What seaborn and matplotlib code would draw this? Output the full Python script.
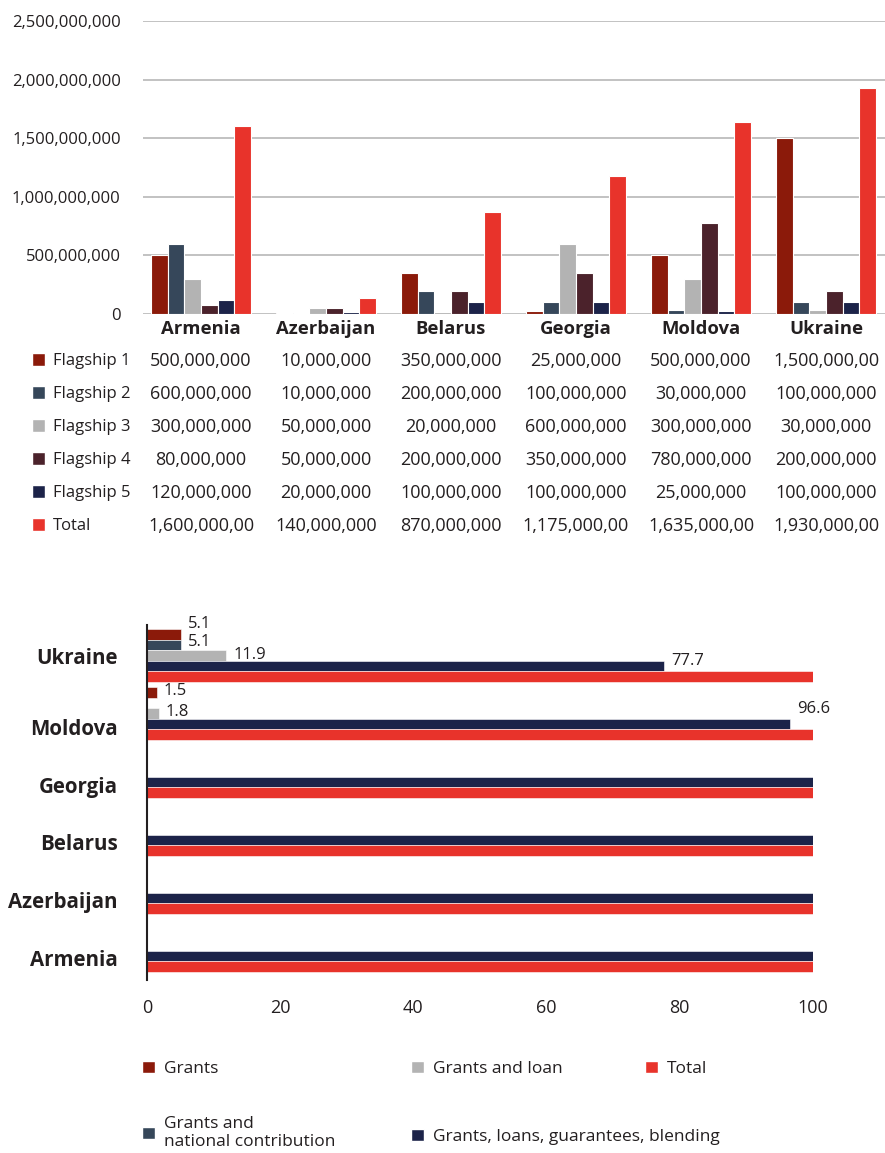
import numpy as np
import pandas as pd
import matplotlib
matplotlib.use("Agg")
import matplotlib.pyplot as plt
import seaborn as sns
from matplotlib.patches import Patch
from matplotlib.ticker import FuncFormatter
from matplotlib.transforms import blended_transform_factory, ScaledTranslation

# ---------------- data: top chart ----------------
countries = ["Armenia", "Azerbaijan", "Belarus", "Georgia", "Moldova", "Ukraine"]
series = ["Flagship 1", "Flagship 2", "Flagship 3", "Flagship 4", "Flagship 5", "Total"]
flagship_1 = [500000000, 10000000, 350000000, 25000000, 500000000, 1500000000]
flagship_2 = [600000000, 10000000, 200000000, 100000000, 30000000, 100000000]
flagship_3 = [300000000, 50000000, 20000000, 600000000, 300000000, 30000000]
flagship_4 = [80000000, 50000000, 200000000, 350000000, 780000000, 200000000]
flagship_5 = [120000000, 20000000, 100000000, 100000000, 25000000, 100000000]
total = [1600000000, 140000000, 870000000, 1175000000, 1635000000, 1930000000]
y_ticks_top = [0, 500000000, 1000000000, 1500000000, 2000000000, 2500000000]

# ---------------- data: bottom chart ----------------
countries_h = ["Ukraine", "Moldova", "Georgia", "Belarus", "Azerbaijan", "Armenia"]
fund_types = ["Grants", "Grants and national contribution", "Grants and loan",
              "Grants, loans, guarantees, blending", "Total"]
grants = [5.1, 1.5, 0, 0, 0, 0]
grants_national = [5.1, 0, 0, 0, 0, 0]
grants_loan = [11.9, 1.8, 0, 0, 0, 0]
grants_loans_guar = [77.7, 96.6, 100, 100, 100, 100]
total_pct = [100, 100, 100, 100, 100, 100]
x_ticks_bottom = [0, 20, 40, 60, 80, 100]

# ---------------- styles ----------------
c_f1 = "#8B1A0A"
c_f2 = "#36475A"
c_f3 = "#B3B3B3"
c_f4 = "#4B222B"
c_f5 = "#1C2349"
c_tot = "#E8332B"
top_colors = [c_f1, c_f2, c_f3, c_f4, c_f5, c_tot]
bot_colors = [c_f1, c_f2, c_f3, c_f5, c_tot]
txt = "#231F20"

# vertical lift (px) of individual value labels in the bottom chart
label_lift = {(0, 0): 10, (1, 0): 3, (2, 0): 1, (3, 0): 5,
              (0, 1): 1, (2, 1): 2, (3, 1): 15}

sns.set_style("white")
plt.rcParams["font.family"] = ["Open Sans", "DejaVu Sans"]
plt.rcParams["text.color"] = txt

W, H = 885, 1153
fig = plt.figure(figsize=(W / 100, H / 100), dpi=100)

# ================= top chart =================
vals = [flagship_1, flagship_2, flagship_3, flagship_4, flagship_5, total]
df1 = pd.DataFrame([(c, s, v[i]) for s, v in zip(series, vals) for i, c in enumerate(countries)],
                   columns=["country", "series", "value"])

ax1 = fig.add_axes([143 / W, 1 - 314 / H, 742 / W, 293 / H])
sns.barplot(data=df1, x="country", y="value", hue="series", order=countries,
            hue_order=series, palette=top_colors, width=0.8, edgecolor="white",
            linewidth=0.8, legend=False, errorbar=None, ax=ax1, saturation=1)
ax1.set_xlim(-0.464, 5.472)
ax1.set_ylim(0, 2500000000)
ax1.set_yticks(y_ticks_top)
ax1.yaxis.set_major_formatter(FuncFormatter(lambda v, p: f"{int(v):,}"))
ax1.yaxis.grid(True, color="#BDBDBD", lw=1.3)
ax1.set_axisbelow(True)
for s in ax1.spines.values():
    s.set_visible(False)
ax1.set_xlabel("")
ax1.set_ylabel("")
ax1.tick_params(axis="y", length=0, pad=16, labelsize=12, labelcolor=txt)
ax1.tick_params(axis="x", length=0, pad=4, labelsize=13.3, labelcolor=txt)
for lbl in ax1.get_xticklabels():
    lbl.set_fontweight("bold")

# data table under the top chart
trans = blended_transform_factory(ax1.transData, fig.transFigure)
for r, (name, v, col) in enumerate(zip(series, vals, top_colors)):
    ypx = 361 + 33 * r
    yf = 1 - ypx / H
    for i, val in enumerate(v):
        ax1.text(i, yf, f"{val:,}"[:12], transform=trans, ha="center", va="center",
                 fontsize=13, color=txt, clip_on=False)
    fig.legend(handles=[Patch(facecolor=col)], labels=[name], loc="center left",
               bbox_to_anchor=(32 / W, yf), frameon=False, fontsize=12,
               handlelength=0.8, handleheight=0.8, handletextpad=0.45,
               borderpad=0, borderaxespad=0)

# ================= bottom chart =================
vals2 = [grants, grants_national, grants_loan, grants_loans_guar, total_pct]
df2 = pd.DataFrame([(c, t, v[i]) for t, v in zip(fund_types, vals2) for i, c in enumerate(countries_h)],
                   columns=["country", "type", "value"])

ax2 = fig.add_axes([147 / W, 1 - 980 / H, 666 / W, 355 / H])
sns.barplot(data=df2, x="value", y="country", hue="type", order=countries_h,
            hue_order=fund_types, palette=bot_colors, width=0.914, orient="h",
            edgecolor="white", linewidth=0.4, legend=False, errorbar=None, ax=ax2,
            saturation=1)
ax2.set_xlim(0, 100)
ax2.set_ylim(5.595, -0.526)
ax2.set_xticks(x_ticks_bottom)
ax2.set_xlabel("")
ax2.set_ylabel("")
for k, s in ax2.spines.items():
    s.set_visible(k == "left")
ax2.spines["left"].set_color(txt)
ax2.spines["left"].set_linewidth(1.5)
ax2.tick_params(axis="x", length=0, pad=14, labelsize=13, labelcolor=txt)
ax2.tick_params(axis="y", length=0, pad=21, labelsize=14.8, labelcolor=txt)
for j, lbl in enumerate(ax2.get_yticklabels()):
    lbl.set_fontweight("bold")
    if j > 0:
        lbl.set_transform(lbl.get_transform() + ScaledTranslation(0, -13 / 100, fig.dpi_scale_trans))

for h, cont in enumerate(ax2.containers[:4]):
    labels = [f"{b.get_width():.1f}" if 0 < b.get_width() < 100 else "" for b in cont]
    anns = ax2.bar_label(cont, labels=labels, padding=5, fontsize=12, color=txt)
    for ci, a in enumerate(anns):
        lift_pt = label_lift.get((h, ci), 0) * 0.72
        a.xyann = (5, lift_pt)

# legend of bottom chart
legend_spots = [(142, 1069), (142, 1133), (411, 1069), (411, 1137), (645, 1069)]
legend_labels = ["Grants", "Grants and\nnational contribution", "Grants and loan",
                 "Grants, loans, guarantees, blending", "Total"]
for (xp, yp), lab, col in zip(legend_spots, legend_labels, bot_colors):
    fig.legend(handles=[Patch(facecolor=col)], labels=[lab], loc="center left",
               bbox_to_anchor=(xp / W, 1 - yp / H), frameon=False, fontsize=12.5,
               handlelength=0.72, handleheight=0.72, handletextpad=0.55,
               borderpad=0, borderaxespad=0, labelspacing=0)

fig.savefig("out.png", dpi=100)
